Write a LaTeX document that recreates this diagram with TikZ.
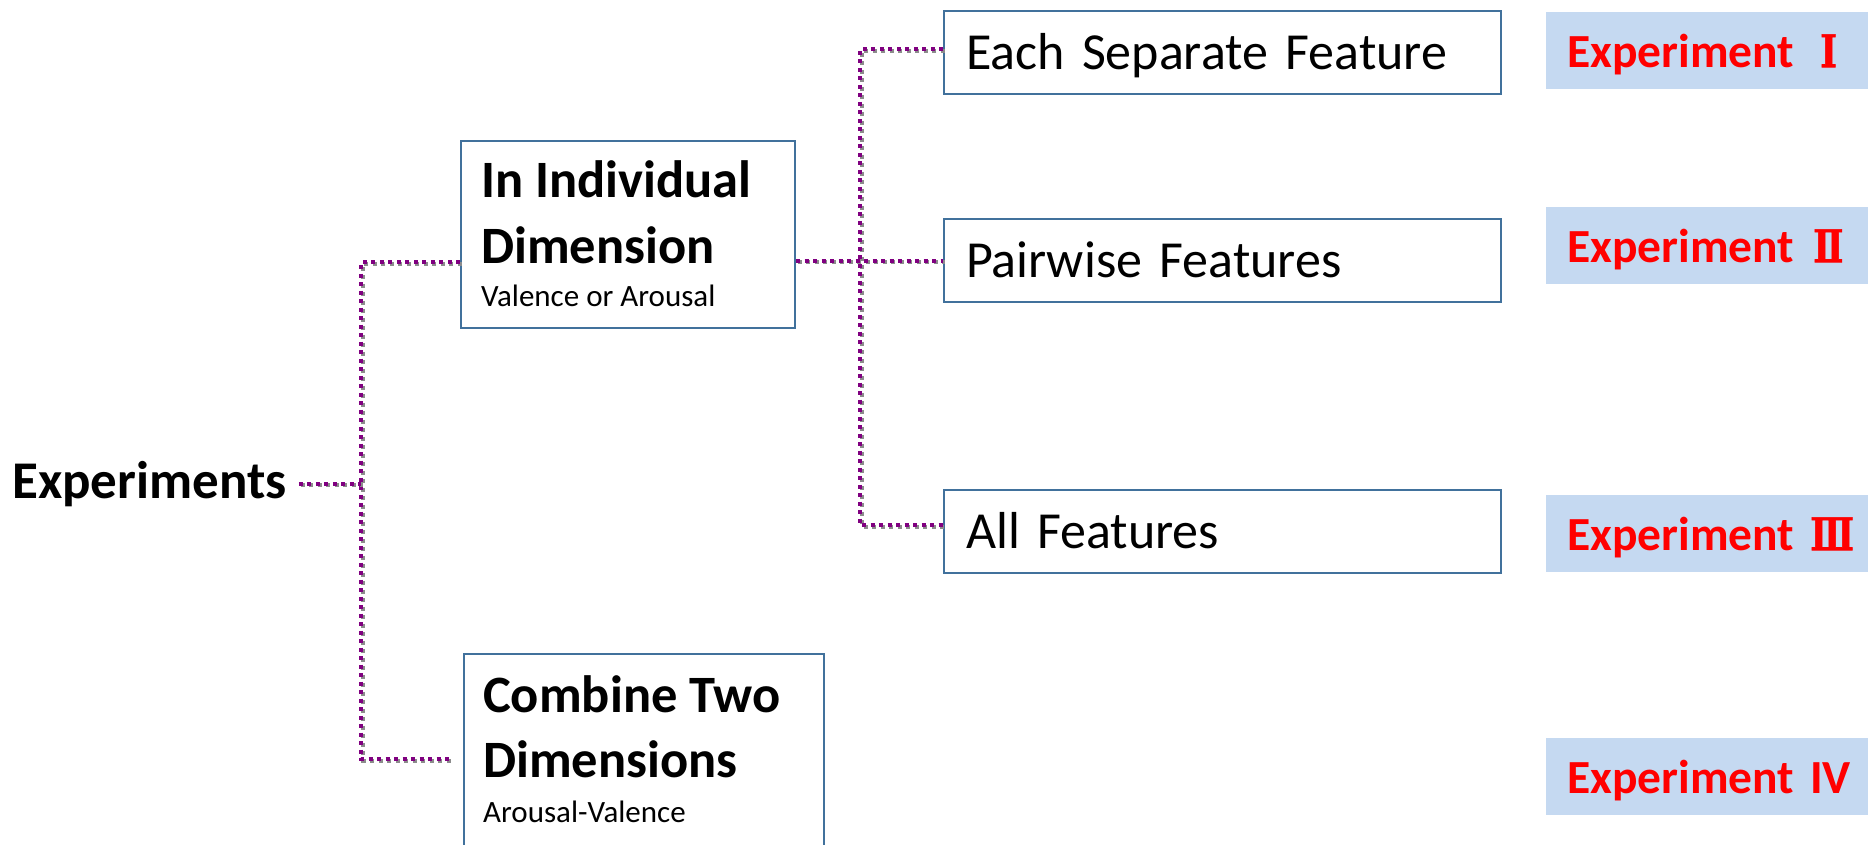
\documentclass[tikz,border=0pt]{standalone}
\usepackage{fontspec}
\setmainfont{Carlito}
\newfontfamily\numfont{DejaVu Serif}[BoldFeatures={FakeBold=1.5}]
\definecolor{boxline}{RGB}{65,113,156}
\definecolor{labfill}{RGB}{197,217,241}
\definecolor{conncol}{RGB}{128,0,128}
\definecolor{shadowcol}{RGB}{140,140,140}
% narrow serif Roman numeral
\newcommand{\romnum}[1]{\scalebox{0.8}[1]{\fontsize{45}{50}\selectfont\bfseries\numfont #1}}
\begin{document}
\begin{tikzpicture}[x=1pt,y=-1pt,
  box/.style={draw=boxline, line width=2pt, fill=white, inner sep=0pt, anchor=north west},
  title/.style={font=\fontsize{52.5}{62}\selectfont\bfseries, anchor=base west, inner sep=0pt},
  subtitle/.style={font=\fontsize{31}{37}\selectfont, anchor=base west, inner sep=0pt},
  leaf/.style={box, minimum width=557pt, minimum height=83pt, inner xsep=22pt, inner ysep=0pt,
    text width=513pt, align=left, font=\fontsize{52}{62}\selectfont, text height=34pt, text depth=0pt},
  explabel/.style={anchor=north west, fill=labfill, minimum width=340pt, minimum height=77pt,
    inner xsep=21pt, inner ysep=0pt, text width=298pt, align=left, text=red,
    font=\fontsize{47.5}{55}\selectfont\bfseries, text height=33pt, text depth=0pt},
  conn/.style={draw=conncol, line width=4pt, dash pattern=on 4pt off 4.5pt,
    preaction={draw=shadowcol, line width=4pt, dash pattern=on 4pt off 4.5pt,
      transform canvas={shift={(1.8pt,-1.8pt)}}}}
]
\useasboundingbox (0,0) rectangle (1868,845);
\clip (0,0) rectangle (1868,845);

% root
\node[font=\fontsize{53}{62}\selectfont\bfseries, anchor=base west, inner sep=0pt] (exp) at (12,498) {Experiments};

% second level
\node[box, minimum width=334pt, minimum height=187pt] (indiv) at (460,140) {};
\node[title] (indivA) at (481,198) {In Individual};
\node[title] (indivB) at (481,263) {Dimension};
\node[subtitle] (indivC) at (481,306) {Valence or Arousal};

\node[box, minimum width=360pt, minimum height=230pt] (comb) at (463,653) {};
\node[title] (combA) at (483,712) {Combine Two};
\node[title] (combB) at (483,777) {Dimensions};
\node[subtitle] (combC) at (483,822) {Arousal-Valence};

% third level
\node[leaf] (each) at (943,10) {Each Separate Feature};
\node[leaf] (pair) at (943,218) {Pairwise Features};
\node[leaf] (allf) at (943,489) {All Features};

% experiment tags
\node[explabel] (x1) at (1546,12) {Experiment\hspace{26pt}\romnum{Ⅰ}};
\node[explabel] (x2) at (1546,207) {Experiment\hspace{19pt}\romnum{Ⅱ}};
\node[explabel] (x3) at (1546,495) {Experiment\hspace{16pt}\romnum{Ⅲ}};
\node[explabel] (x4) at (1546,738) {Experiment IV};

% connectors
\coordinate (ta) at (361,262);
\coordinate (tb) at (361,759);
\coordinate (ra) at (860,49);
\coordinate (rb) at (860,525);

\draw[conn] (indiv.west |- ta) -- (ta) -- (tb) -- ([xshift=-10pt]comb.west |- tb);
\draw[conn] ([xshift=12pt]exp.east) -- (exp.east -| ta);
\draw[conn] (each.west |- ra) -- (ra) -- (rb) -- (allf.west |- rb);
\draw[conn] (indiv.east |- pair.west) -- (pair.west);
\end{tikzpicture}
\end{document}
